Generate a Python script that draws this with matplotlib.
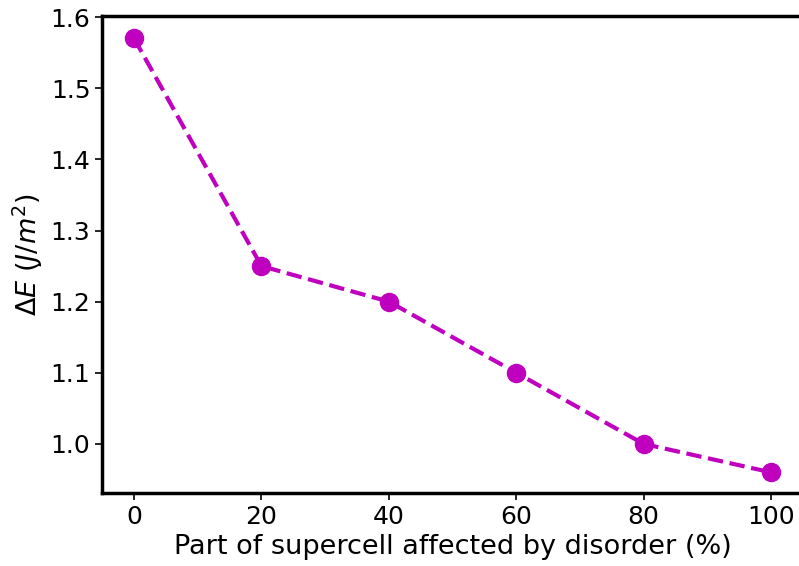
import matplotlib
matplotlib.use("Agg")
import matplotlib.pyplot as plt

# Fraction of the supercell affected by disorder (%) and energy difference
disorder_pct = [0, 20, 40, 60, 80, 100]
delta_e = [1.57, 1.25, 1.20, 1.10, 1.00, 0.96]

fig = plt.figure(figsize=(7.99, 5.66), dpi=100)
ax = fig.add_axes([0.1279, 0.129, 0.877, 0.8425])

ax.plot(disorder_pct, delta_e, linestyle="--", color="m", linewidth=3,
        marker="o", markersize=13)

ax.set_xlim(-5, 105)
ax.set_ylim(0.931, 1.6014)
ax.set_xticks([0, 20, 40, 60, 80, 100])
ax.set_yticks([1.0, 1.1, 1.2, 1.3, 1.4, 1.5, 1.6])

ax.set_xlabel("Part of supercell affected by disorder (%)", fontsize=19.5)
ax.set_ylabel(r"$\Delta E$ ($J/m^2$)", fontsize=19.5)
ax.tick_params(axis="both", labelsize=18, width=1.2, length=5)
for sp in ax.spines.values():
    sp.set_linewidth(2.5)

fig.savefig("out.png", dpi=100)
